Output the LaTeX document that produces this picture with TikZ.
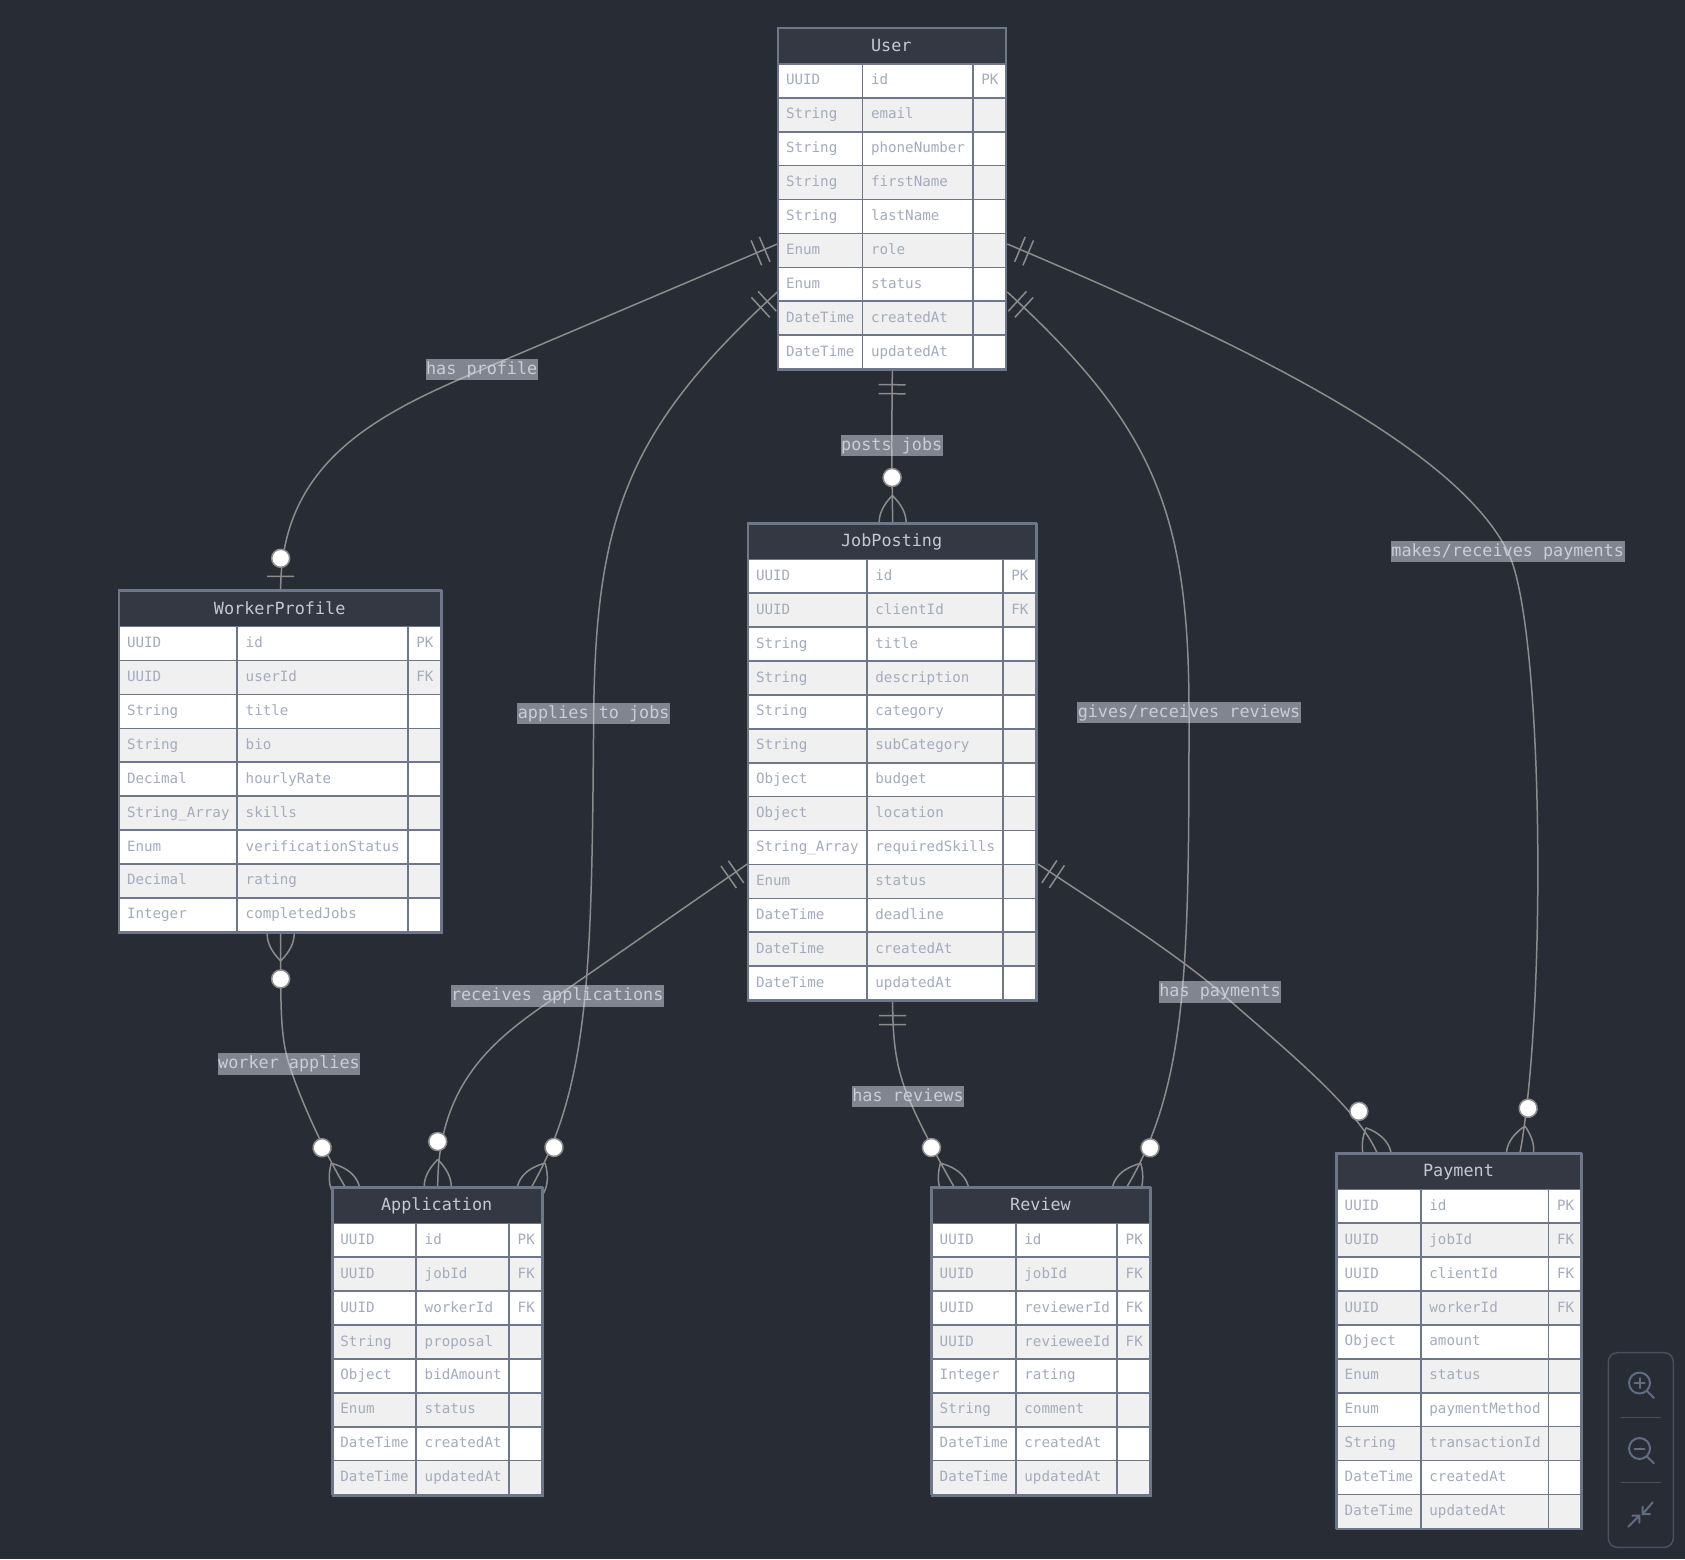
\documentclass[tikz,border=0pt]{standalone}
\usepackage{fontspec}
\newfontfamily\ermono{DejaVu Sans Mono}
\usetikzlibrary{calc,decorations.markings}

\definecolor{bgcol}{HTML}{282C34}
\definecolor{hdrfill}{HTML}{333843}
\definecolor{rowgray}{HTML}{F0F0F0}
\definecolor{cellline}{HTML}{6E768A}
\definecolor{celltxt}{HTML}{A3ABBD}
\definecolor{hdrtxt}{HTML}{C3C9D4}
\definecolor{edgecol}{HTML}{8C8C8C}
\definecolor{lblfill}{HTML}{D8DEEA}
\definecolor{lbltxt}{HTML}{C8CEDA}
\definecolor{wframe}{HTML}{474F60}
\definecolor{wicon}{HTML}{626C82}

\pgfdeclarelayer{bglayer}
\pgfdeclarelayer{edgelayer}
\pgfdeclarelayer{labellayer}
\pgfsetlayers{bglayer,edgelayer,labellayer,main}

\newcommand\cellfont{\ermono\fontsize{14.2}{17}\selectfont}
\newcommand\bigfont{\ermono\fontsize{16.8}{20}\selectfont}

\def\erHead{36.6}
\def\erRow{33.9}

% entity table: #1 name, #2 left, #3 top, #4-#6 column widths, #7 title, #8 rows type/name/key
\newcommand\ertable[8]{%
  \pgfmathsetmacro\erW{#4+#5+#6}
  \foreach \ty/\nm/\ky [count=\i] in {#8}{%
    \pgfmathsetmacro\erY{#3+\erHead+(\i-1)*\erRow}
    \pgfmathtruncatemacro\erOdd{mod(\i,2)}
    \ifnum\erOdd=1 \def\erFill{white}\else\def\erFill{rowgray}\fi
    \filldraw[cellbox, fill=\erFill] (#2,\erY) rectangle ++(#4,\erRow);
    \filldraw[cellbox, fill=\erFill] ({#2+#4},\erY) rectangle ++(#5,\erRow);
    \filldraw[cellbox, fill=\erFill] ({#2+#4+#5},\erY) rectangle ++(#6,\erRow);
    \node[celltext] at ({#2+8.5},{\erY+21}) {\ty};
    \node[celltext] at ({#2+#4+8.5},{\erY+21}) {\nm};
    \node[celltext] at ({#2+#4+#5+8.5},{\erY+21}) {\ky};
    \xdef\erN{\i}
  }
  \filldraw[hdrbox] (#2,#3) rectangle ++(\erW,\erHead);
  \node[hdrtext] at ({#2+\erW/2},{#3+24}) {#7};
  \node[tableframe, minimum width=\erW, minimum height={\erHead+\erN*\erRow},
        anchor=north west] (#1) at (#2,#3) {};
}

% cardinality glyphs, drawn in the frame of the line end (x along the line)
\newcommand\crowfoot{\draw[mk] (-27,0) .. controls (-9,-18) and (9,-18) .. (27,0)
                               (-27,0) .. controls (-9,18) and (9,18) .. (27,0);}
\newcommand\ringat[1]{\filldraw[mk, fill=white] (#1,0) circle[radius=9];}
\newcommand\barat[1]{\draw[mk] (#1,-13.5) -- (#1,13.5);}

\tikzset{
  cellbox/.style={draw=cellline, line width=1.6pt},
  celltext/.style={anchor=base west, inner sep=0pt, font=\cellfont, text=celltxt},
  hdrbox/.style={fill=hdrfill, draw=cellline, line width=1.6pt},
  hdrtext/.style={anchor=base, inner sep=0pt, font=\bigfont, text=hdrtxt},
  tableframe/.style={draw=cellline, line width=2pt, inner sep=0pt},
  rel/.style={draw=edgecol, line width=1.5pt},
  mk/.style={draw=edgecol, line width=1.5pt},
  lbl/.style={fill=lblfill, fill opacity=0.5, text opacity=1, text=lbltxt,
    font=\bigfont, inner xsep=0.5pt, inner ysep=2.65pt,
    text height=12.5pt, text depth=3.5pt},
  % exactly one, at the start of a relation line
  one start/.style={postaction={decorate, decoration={markings,
    mark=at position 0.2pt with {\barat{13.5}\barat{22.5}}}}},
  % zero or one, at the end
  zero one end/.style={postaction={decorate, decoration={markings,
    mark=at position -0.2pt with {\barat{-13.5}\ringat{-31.5}}}}},
  % zero or many, at the end
  many end/.style={postaction={decorate, decoration={markings,
    mark=at position -0.2pt with {\crowfoot\ringat{-45}}}}},
  % zero or many, at the start
  many start/.style={postaction={decorate, decoration={markings,
    mark=at position 0.2pt with {\crowfoot\ringat{45}}}}},
  wline/.style={draw=wicon, line width=2pt, line cap=round},
}

\begin{document}
\begin{tikzpicture}[x=1pt, y=-1pt]
\begin{pgfonlayer}{bglayer}
  \fill[bgcol] (0,0) rectangle (1685,1559);
\end{pgfonlayer}
\useasboundingbox (0,0) rectangle (1685,1559);

% ---------------- entities ----------------
\ertable{user}{777.3}{27.3}{85}{110.4}{32.6}{User}{%
  UUID/id/PK, String/email/{}, String/phoneNumber/{}, String/firstName/{},
  String/lastName/{}, Enum/role/{}, Enum/status/{}, DateTime/createdAt/{},
  DateTime/updatedAt/{}}

\ertable{wp}{118.3}{590}{118.7}{170.7}{33.3}{WorkerProfile}{%
  UUID/id/PK, UUID/userId/FK, String/title/{}, String/bio/{},
  Decimal/hourlyRate/{}, String\_Array/skills/{}, Enum/verificationStatus/{},
  Decimal/rating/{}, Integer/completedJobs/{}}

\ertable{job}{747.3}{522.7}{119.4}{136}{33.3}{JobPosting}{%
  UUID/id/PK, UUID/clientId/FK, String/title/{}, String/description/{},
  String/category/{}, String/subCategory/{}, Object/budget/{}, Object/location/{},
  String\_Array/requiredSkills/{}, Enum/status/{}, DateTime/deadline/{},
  DateTime/createdAt/{}, DateTime/updatedAt/{}}

\ertable{app}{331.7}{1186.7}{84.3}{93}{32.7}{Application}{%
  UUID/id/PK, UUID/jobId/FK, UUID/workerId/FK, String/proposal/{},
  Object/bidAmount/{}, Enum/status/{}, DateTime/createdAt/{}, DateTime/updatedAt/{}}

\ertable{rev}{931}{1186.7}{84.7}{101.3}{33}{Review}{%
  UUID/id/PK, UUID/jobId/FK, UUID/reviewerId/FK, UUID/revieweeId/FK,
  Integer/rating/{}, String/comment/{}, DateTime/createdAt/{}, DateTime/updatedAt/{}}

\ertable{pay}{1336}{1152.7}{84.7}{127.6}{32.7}{Payment}{%
  UUID/id/PK, UUID/jobId/FK, UUID/clientId/FK, UUID/workerId/FK,
  Object/amount/{}, Enum/status/{}, Enum/paymentMethod/{}, String/transactionId/{},
  DateTime/createdAt/{}, DateTime/updatedAt/{}}

% attachment points on the entity borders
\coordinate (uLa) at ($(user.north west)+(0,216.7)$);
\coordinate (uLb) at ($(user.north west)+(0,264.7)$);
\coordinate (uRa) at ($(user.north east)+(0,216.7)$);
\coordinate (uRb) at ($(user.north east)+(0,264.7)$);
\coordinate (jL)  at ($(job.north west)+(0,341.3)$);
\coordinate (jR)  at ($(job.north east)+(0,341.3)$);
\coordinate (aL)  at ($(app.north west)+(13.3,0)$);
\coordinate (aR)  at ($(app.north east)+(-12,0)$);
\coordinate (rL)  at ($(rev.north west)+(23,0)$);
\coordinate (rR)  at ($(rev.north east)+(-25,0)$);
\coordinate (pL)  at ($(pay.north west)+(41,0)$);
\coordinate (pR)  at ($(pay.north east)+(-63,0)$);

% ---------------- relation labels ----------------
\begin{pgfonlayer}{labellayer}
  \node[lbl] (lProfile)  at (481.7,369.7)  {has profile};
  \node[lbl] (lPosts)    at (891.7,445.8)  {posts jobs};
  \node[lbl] (lApplies)  at (593.7,713.5)  {applies to jobs};
  \node[lbl] (lReviews)  at (1189,712.5)   {gives/receives reviews};
  \node[lbl] (lPayments) at (1507.7,551.5) {makes/receives payments};
  \node[lbl] (lRecv)     at (557.2,996)    {receives applications};
  \node[lbl] (lHasPay)   at (1220,992)     {has payments};
  \node[lbl] (lWorker)   at (289,1064)     {worker applies};
  \node[lbl] (lHasRev)   at (908,1096.5)   {has reviews};
\end{pgfonlayer}

% ---------------- relations ----------------
\begin{pgfonlayer}{edgelayer}
  \draw[rel, one start, zero one end] (uLa) -- (lProfile.center)
      .. controls +(-101,43) and +(0,-130) .. (wp.north);
  \draw[rel, one start, many end] (uLb) .. controls +(-147,135) and +(2,-200) .. (lApplies.center)
      .. controls +(-2,250) and +(59,-104) .. (aR);
  \draw[rel, one start, many end] (user.south) -- (lPosts.center) -- (job.north);
  \draw[rel, one start, many end] (uRb) .. controls +(147,135) and +(0,-200) .. (lReviews.center)
      .. controls +(0,250) and +(61,-103) .. (rR);
  \draw[rel, one start, many end] (uRa) .. controls +(230,97.5) and +(-54,-107) .. (lPayments.center)
      .. controls +(36,71) and +(27,-147) .. (pR);
  \draw[rel, many start, many end] (wp.south) .. controls +(0,70) and +(-9,-28.5) .. (lWorker.center)
      .. controls +(12,38) and +(-20.3,-34.5) .. (aL);
  \draw[rel, one start, many end] (jL) -- (lRecv.center)
      .. controls +(-55,38) and +(0,-110) .. (app.north);
  \draw[rel, one start, many end] (job.south) .. controls +(0,41) and +(-11.4,-27.6) .. (lHasRev.center)
      .. controls +(11.4,27.6) and +(-15,-26) .. (rL);
  \draw[rel, one start, many end] (jR) .. controls +(50,33.6) and +(-45,-39.6) .. (lHasPay.center)
      .. controls +(60,53) and +(-20,-46) .. (pL);
\end{pgfonlayer}

% ---------------- zoom controls ----------------
\draw[wframe, line width=1.5pt, rounded corners=9] (1608.3,1352.7) rectangle (1673.3,1547.3);
\draw[wframe, line width=1.5pt] (1621,1417.3) -- (1661,1417.3) (1621,1482.7) -- (1661,1482.7);
% zoom in
\draw[wline] (1639.5,1383) circle[radius=10.5];
\draw[wline] (1647,1391) -- (1654,1398);
\draw[wline] (1634.5,1383) -- (1644.5,1383) (1639.5,1378) -- (1639.5,1388);
% zoom out
\draw[wline] (1639.5,1448.5) circle[radius=10.5];
\draw[wline] (1647,1456.5) -- (1654,1463.5);
\draw[wline] (1634.5,1448.5) -- (1644.5,1448.5);
% fit
\draw[wline] (1652.7,1502.3) -- (1642.7,1514) (1642.7,1506.7) -- (1642.7,1514) -- (1650,1514);
\draw[wline] (1628.3,1526.7) -- (1639.3,1515.7) (1632.3,1515.7) -- (1639.3,1515.7) -- (1639.3,1522.7);
\end{tikzpicture}
\end{document}
